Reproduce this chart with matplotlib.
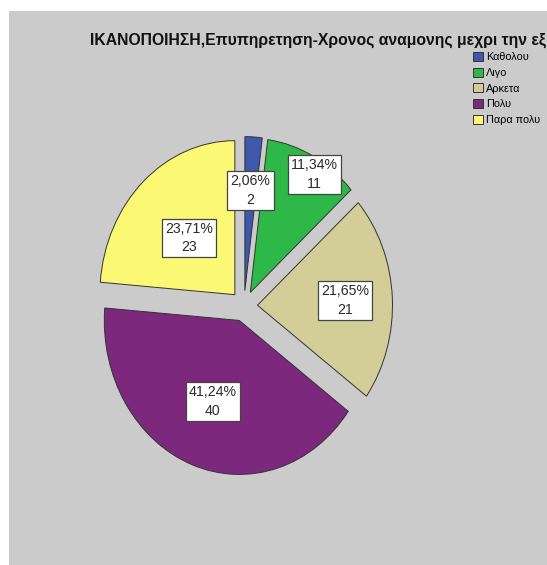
import matplotlib
matplotlib.use('Agg')
import matplotlib.pyplot as plt
import numpy as np

categories = ['Καθολου', 'Λιγο', 'Αρκετα', 'Πολυ', 'Παρα πολυ']
counts = [2, 11, 21, 40, 23]
percent_labels = ['2,06%', '11,34%', '21,65%', '41,24%', '23,71%']
colors = ['#3E58AC', '#2EB848', '#D3CE97', '#7C287D', '#FBF873']
title = 'ΙΚΑΝΟΠΟΙΗΣΗ,Επυπηρετηση-Χρονος αναμονης μεχρι την εξ'

# where each value box sits along its wedge (fraction of radius from the
# exploded wedge apex) and a small angular nudge in degrees
label_dist = [0.65, 0.90, 0.65, 0.56, 0.50]
label_nudge = [0, -4, 0, 0, 0]

W, H = 547, 565
fig = plt.figure(figsize=(W / 100, H / 100), dpi=100)
fig.patch.set_facecolor('white')

# grey chart panel behind everything
bg = fig.add_axes([9 / W, 0, 1 - 9 / W, (H - 11) / H], zorder=-1)
bg.set_facecolor('#cbcbcb')
bg.set_xticks([])
bg.set_yticks([])
for s in bg.spines.values():
    s.set_visible(False)

# elliptical pie: centre and radii in pixels
cx, cy, rx, ry = 244, 306, 135, 154
span = 1.5
ax = fig.add_axes([(cx - span * rx) / W, (H - cy - span * ry) / H,
                   2 * span * rx / W, 2 * span * ry / H], zorder=1)
wedges, _ = ax.pie(counts, colors=colors, startangle=90, counterclock=False,
                   explode=[0.1] * len(counts),
                   wedgeprops=dict(edgecolor='#333333', linewidth=0.7))
ax.set_aspect('auto')
ax.set_xlim(-span, span)
ax.set_ylim(-span, span)
ax.axis('off')

for w, pct, n, d, nudge in zip(wedges, percent_labels, counts, label_dist, label_nudge):
    th = np.deg2rad((w.theta1 + w.theta2) / 2 + nudge)
    x = w.center[0] + d * np.cos(th)
    y = w.center[1] + d * np.sin(th)
    ax.text(x, y, f'{pct}\n{n}', ha='center', va='center', fontsize=10.2,
            family='Liberation Sans', color='#2a2a2a', linespacing=1.42,
            bbox=dict(boxstyle='square,pad=0.22', facecolor='white',
                      edgecolor='#444444', linewidth=0.9))

fig.text(90 / W, (H - 45) / H, title, ha='left', va='baseline', fontsize=11.35,
         family='Liberation Sans', weight='bold', color='#111111')

fig.legend(wedges, categories, loc='upper left', bbox_to_anchor=(473 / W, (H - 52) / H),
           frameon=False, prop=dict(family='Liberation Sans', size=7.8),
           handlelength=0.9, handleheight=0.9, handletextpad=0.3,
           labelspacing=0.5, borderpad=0, borderaxespad=0)

fig.savefig('out.png', dpi=100, facecolor='white')
